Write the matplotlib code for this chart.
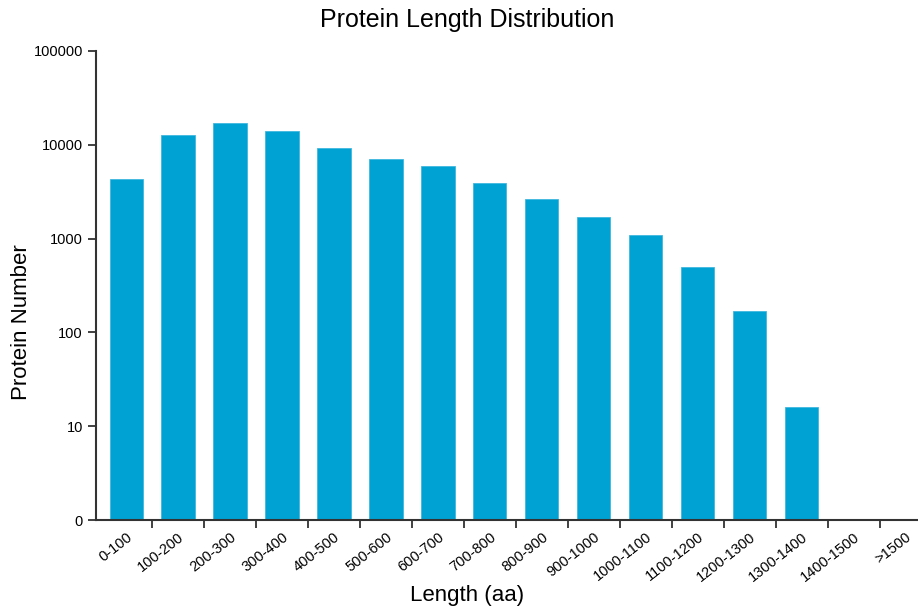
import matplotlib.pyplot as plt
import numpy as np

plt.rcParams['font.family'] = ['Liberation Sans', 'DejaVu Sans']

categories = ['0-100', '100-200', '200-300', '300-400', '400-500', '500-600',
              '600-700', '700-800', '800-900', '900-1000', '1000-1100',
              '1100-1200', '1200-1300', '1300-1400', '1400-1500', '>1500']
counts = [4350, 12780, 17150, 14090, 9290, 7100, 5980, 3940, 2665, 1715,
          1103, 504, 171, 16, 0, 0]
ytick_values = [1, 10, 100, 1000, 10000, 100000]
ytick_labels = ['0', '10', '100', '1000', '10000', '100000']

fig = plt.figure(figsize=(9.18, 6.08), dpi=100)
ax = fig.add_axes([96 / 918, 88 / 608, 822 / 918, 469 / 608])

x = np.arange(len(categories))
heights = np.array([c if c > 0 else np.nan for c in counts], dtype=float)
ax.bar(x, heights, width=0.64, color='#00A2D3', edgecolor='#3FB8E0',
       linewidth=0.6, bottom=0)

ax.set_yscale('log')
ax.set_ylim(1, 100000)
ax.set_xlim(-0.58, 15.24)
ax.set_yticks(ytick_values)
ax.set_yticklabels(ytick_labels)
ax.yaxis.set_minor_locator(plt.NullLocator())

ax.set_xticks(x)
ax.set_xticklabels(categories, rotation=38, ha='right', va='top',
                   rotation_mode='anchor', fontsize=10.5)
ax.set_xticks(x[:-1] + 0.5, minor=True)
ax.tick_params(axis='x', which='major', length=0, pad=7)
ax.tick_params(axis='x', which='minor', length=6, width=1.3, color='#333333')
ax.tick_params(axis='y', length=6, width=1.3, color='#333333', labelsize=10.5)

for side in ['top', 'right']:
    ax.spines[side].set_visible(False)
for side in ['left', 'bottom']:
    ax.spines[side].set_linewidth(1.5)
    ax.spines[side].set_color('#333333')

fig.text(467 / 918, 1 - 20 / 608, 'Protein Length Distribution',
         ha='center', va='center', fontsize=18)
fig.text(467 / 918, 1 - 596 / 608, 'Length (aa)',
         ha='center', va='center', fontsize=16)
fig.text(22 / 918, 1 - 322 / 608, 'Protein Number', rotation=90,
         ha='center', va='center', fontsize=16)

fig.savefig('out.png', dpi=100)
